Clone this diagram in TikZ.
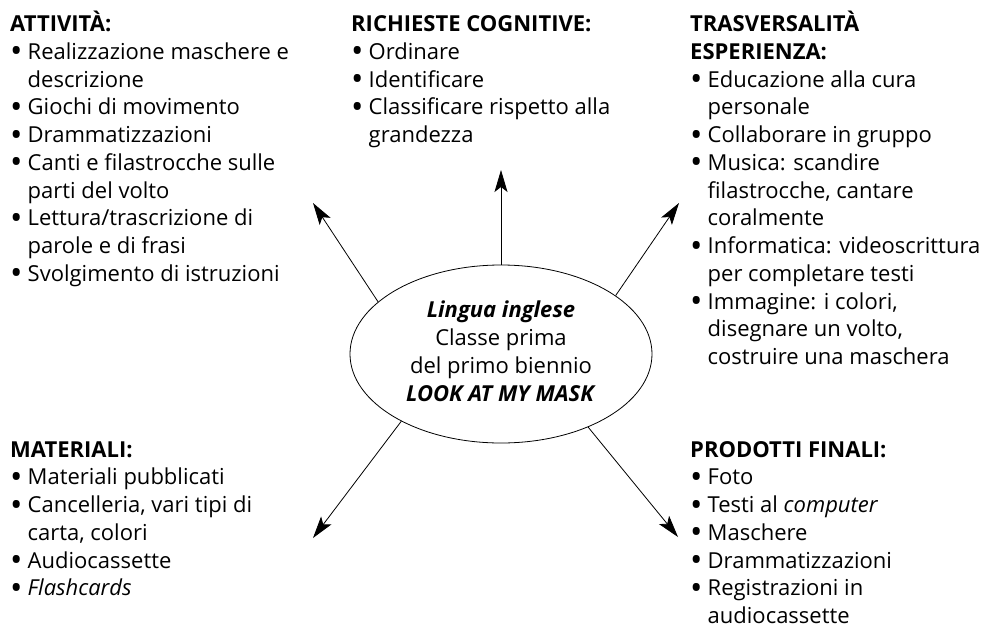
\documentclass[tikz,border=0pt]{standalone}
\usepackage{graphicx}
\usepackage{fontspec}
\setmainfont{Open Sans}
\usetikzlibrary{arrows.meta,positioning,shapes.geometric}
\newcommand{\bul}{\makebox[17.5pt][l]{\smash{\raisebox{-3.6pt}{\scalebox{1.5}{\textbullet}}}}}
\newcommand{\cnt}{\hspace*{17.5pt}}

\begin{document}
\begin{tikzpicture}[x=1pt, y=-1pt, font=\fontsize{22}{27.75}\selectfont,
  >={Stealth[length=22pt, width=13pt, inset=5pt]},
  block/.style={anchor=base west, inner sep=0pt},
  hub/.style={draw, ellipse, line width=0.8pt, minimum width=302pt, minimum height=178pt, inner sep=0pt},
  link/.style={->, line width=0.8pt}]
  \useasboundingbox (0,0) rectangle (989,627);
  \node[block] (act) at (10,31.5) {\begin{tabular}[t]{@{}l@{}}
    \textbf{ATTIVITÀ:}\\
    \bul Realizzazione maschere e\\ \cnt descrizione\\
    \bul Giochi di movimento\\
    \bul Drammatizzazioni\\
    \bul Canti e filastrocche sulle\\ \cnt parti del volto\\
    \bul Lettura/trascrizione di\\ \cnt parole e di frasi\\
    \bul Svolgimento di istruzioni\end{tabular}};
  \node[block] (cog) at (351,31.5) {\begin{tabular}[t]{@{}l@{}}
    \textbf{RICHIESTE COGNITIVE:}\\
    \bul Ordinare\\
    \bul Identificare\\
    \bul Classificare rispetto alla\\ \cnt grandezza\end{tabular}};
  \node[block] (trasv) at (690,31.5) {\begin{tabular}[t]{@{}l@{}}
    \textbf{TRASVERSALITÀ}\\ \textbf{ESPERIENZA:}\\
    \bul Educazione alla cura\\ \cnt personale\\
    \bul Collaborare in gruppo\\
    \bul Musica: scandire\\ \cnt filastrocche, cantare\\ \cnt coralmente\\
    \bul Informatica: videoscrittura\\ \cnt per completare testi\\
    \bul Immagine: i colori,\\ \cnt disegnare un volto,\\ \cnt costruire una maschera\end{tabular}};
  \node[block] (mat) at (10,457) {\begin{tabular}[t]{@{}l@{}}
    \textbf{MATERIALI:}\\
    \bul Materiali pubblicati\\
    \bul Cancelleria, vari tipi di\\ \cnt carta, colori\\
    \bul Audiocassette\\
    \bul \textit{Flashcards}\end{tabular}};
  \node[block] (prod) at (690,457) {\begin{tabular}[t]{@{}l@{}}
    \textbf{PRODOTTI FINALI:}\\
    \bul Foto\\
    \bul Testi al \textit{computer}\\
    \bul Maschere\\
    \bul Drammatizzazioni\\
    \bul Registrazioni in\\ \cnt audiocassette\end{tabular}};
  \node[hub] (centre) at (501,354) {\begin{tabular}{@{}c@{}}
    \textbf{\textit{Lingua inglese}}\\ Classe prima\\ del primo biennio\\
    \textbf{\textit{LOOK AT MY MASK}}\end{tabular}};
  \coordinate (tip-act) at (313,203);
  \coordinate (tip-cog) at (501,170);
  \coordinate (tip-trasv) at (679,203);
  \coordinate (tip-mat) at (313,538);
  \coordinate (tip-prod) at (678,537);
  \draw[link] (centre.north) -- (tip-cog);
  \draw[link] (centre.157) -- (tip-act);
  \draw[link] (centre.27) -- (tip-trasv);
  \draw[link] (centre.214) -- (tip-mat);
  \draw[link] (centre.320) -- (tip-prod);
\end{tikzpicture}
\end{document}
